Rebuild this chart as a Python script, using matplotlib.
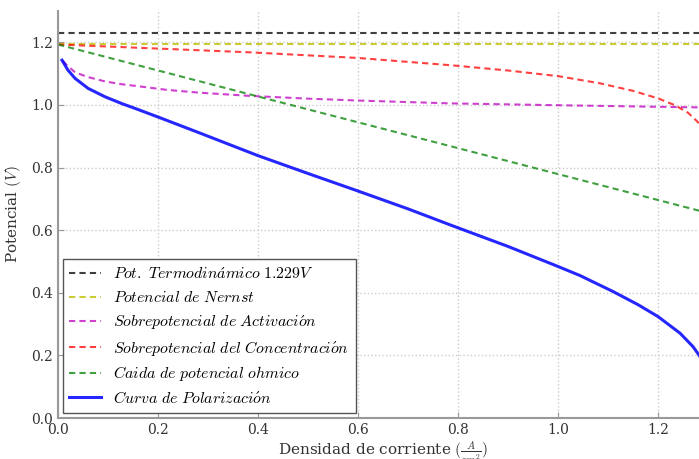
import matplotlib
matplotlib.use("Agg")
import matplotlib.pyplot as plt

plt.rcParams['mathtext.fontset'] = 'cm'
plt.rcParams['font.family'] = ['DejaVu Serif']

# Data
E_termo = 1.229
E_nernst = 1.195
x_const = [0.0, 1.3]

x_act = [0.01, 0.014, 0.034, 0.06, 0.094, 0.128, 0.154, 0.218, 0.284, 0.382, 0.5, 0.6, 0.784, 1.0, 1.2, 1.29]
y_act = [1.141, 1.133, 1.104, 1.089, 1.075, 1.066, 1.061, 1.048, 1.039, 1.029, 1.020, 1.014, 1.005, 0.999, 0.994, 0.992]

x_conc = [0.0, 0.2, 0.384, 0.6, 0.784, 0.9, 1.0, 1.084, 1.15, 1.2, 1.234, 1.26, 1.278, 1.29]
y_conc = [1.193, 1.180, 1.168, 1.150, 1.127, 1.110, 1.092, 1.069, 1.045, 1.021, 0.999, 0.975, 0.948, 0.925]

x_ohm = [0.0, 0.4, 0.8, 1.29]
y_ohm = [1.193, 1.027, 0.862, 0.659]

x_pol = [0.008, 0.02, 0.034, 0.06, 0.094, 0.128, 0.154, 0.204, 0.284, 0.4, 0.5, 0.6, 0.7, 0.784,
         0.9, 1.0, 1.044, 1.11, 1.16, 1.2, 1.244, 1.27, 1.282, 1.29]
y_pol = [1.143, 1.111, 1.085, 1.053, 1.026, 1.004, 0.989, 0.959, 0.910, 0.838, 0.781, 0.725, 0.668, 0.617,
         0.548, 0.484, 0.455, 0.404, 0.362, 0.324, 0.271, 0.228, 0.201, 0.180]

labels = [r"$Pot.\ Termodin\acute{a}mico\ 1.229V$",
          r"$Potencial\ de\ Nernst$",
          r"$Sobrepotencial\ de\ Activaci\acute{o}n$",
          r"$Sobrepotencial\ del\ Concentraci\acute{o}n$",
          r"$Caida\ de\ potencial\ ohmico$",
          r"$Curva\ de\ Polarizaci\acute{o}n$"]

fig = plt.figure(figsize=(6.99, 4.59), dpi=100)
ax = fig.add_axes([58/699, 41/459, 650/699, 407/459])

dash = (0, (3, 2))
ax.plot(x_const, [E_termo]*len(x_const), color='k', ls=dash, lw=1.5, alpha=0.75, label=labels[0])
ax.plot(x_const, [E_nernst]*len(x_const), color='#bfbf00', ls=dash, lw=1.5, alpha=0.8, label=labels[1])
ax.plot(x_act, y_act, color='#bf00bf', ls=dash, lw=1.5, alpha=0.75, label=labels[2])
ax.plot(x_conc, y_conc, color='#ff0000', ls=dash, lw=1.5, alpha=0.75, label=labels[3])
ax.plot(x_ohm, y_ohm, color='#008000', ls=dash, lw=1.5, alpha=0.75, label=labels[4])
ax.plot(x_pol, y_pol, color='#0000ff', ls='-', lw=2.2, alpha=0.85, label=labels[5])

ax.set_xlim(0, 1.3)
ax.set_ylim(0, 1.3)
ax.set_xticks([0.0, 0.2, 0.4, 0.6, 0.8, 1.0, 1.2])
ax.set_yticks([0.0, 0.2, 0.4, 0.6, 0.8, 1.0, 1.2])
ax.grid(True, color='#cccccc', ls=':', lw=1.0)
ax.set_axisbelow(True)

for s in ['top', 'right']:
    ax.spines[s].set_visible(False)
for s in ['left', 'bottom']:
    ax.spines[s].set_color('#999999')
    ax.spines[s].set_linewidth(1.5)
ax.tick_params(direction='in', length=4, color='#999999', labelcolor='#333333', labelsize=10)

ax.set_xlabel(r"Densidad de corriente $(\frac{A}{cm^2})$", color='#333333', fontsize=11, labelpad=2)
ax.set_ylabel(r"Potencial $(V)$", color='#333333', fontsize=11, labelpad=6)

leg = ax.legend(loc='lower left', fontsize=11.4, fancybox=False, borderaxespad=0.3,
                handlelength=2.0, labelspacing=0.42, framealpha=1)
leg.get_frame().set_edgecolor('#555555')
leg.get_frame().set_linewidth(1.0)

fig.savefig('out.png', dpi=100)
